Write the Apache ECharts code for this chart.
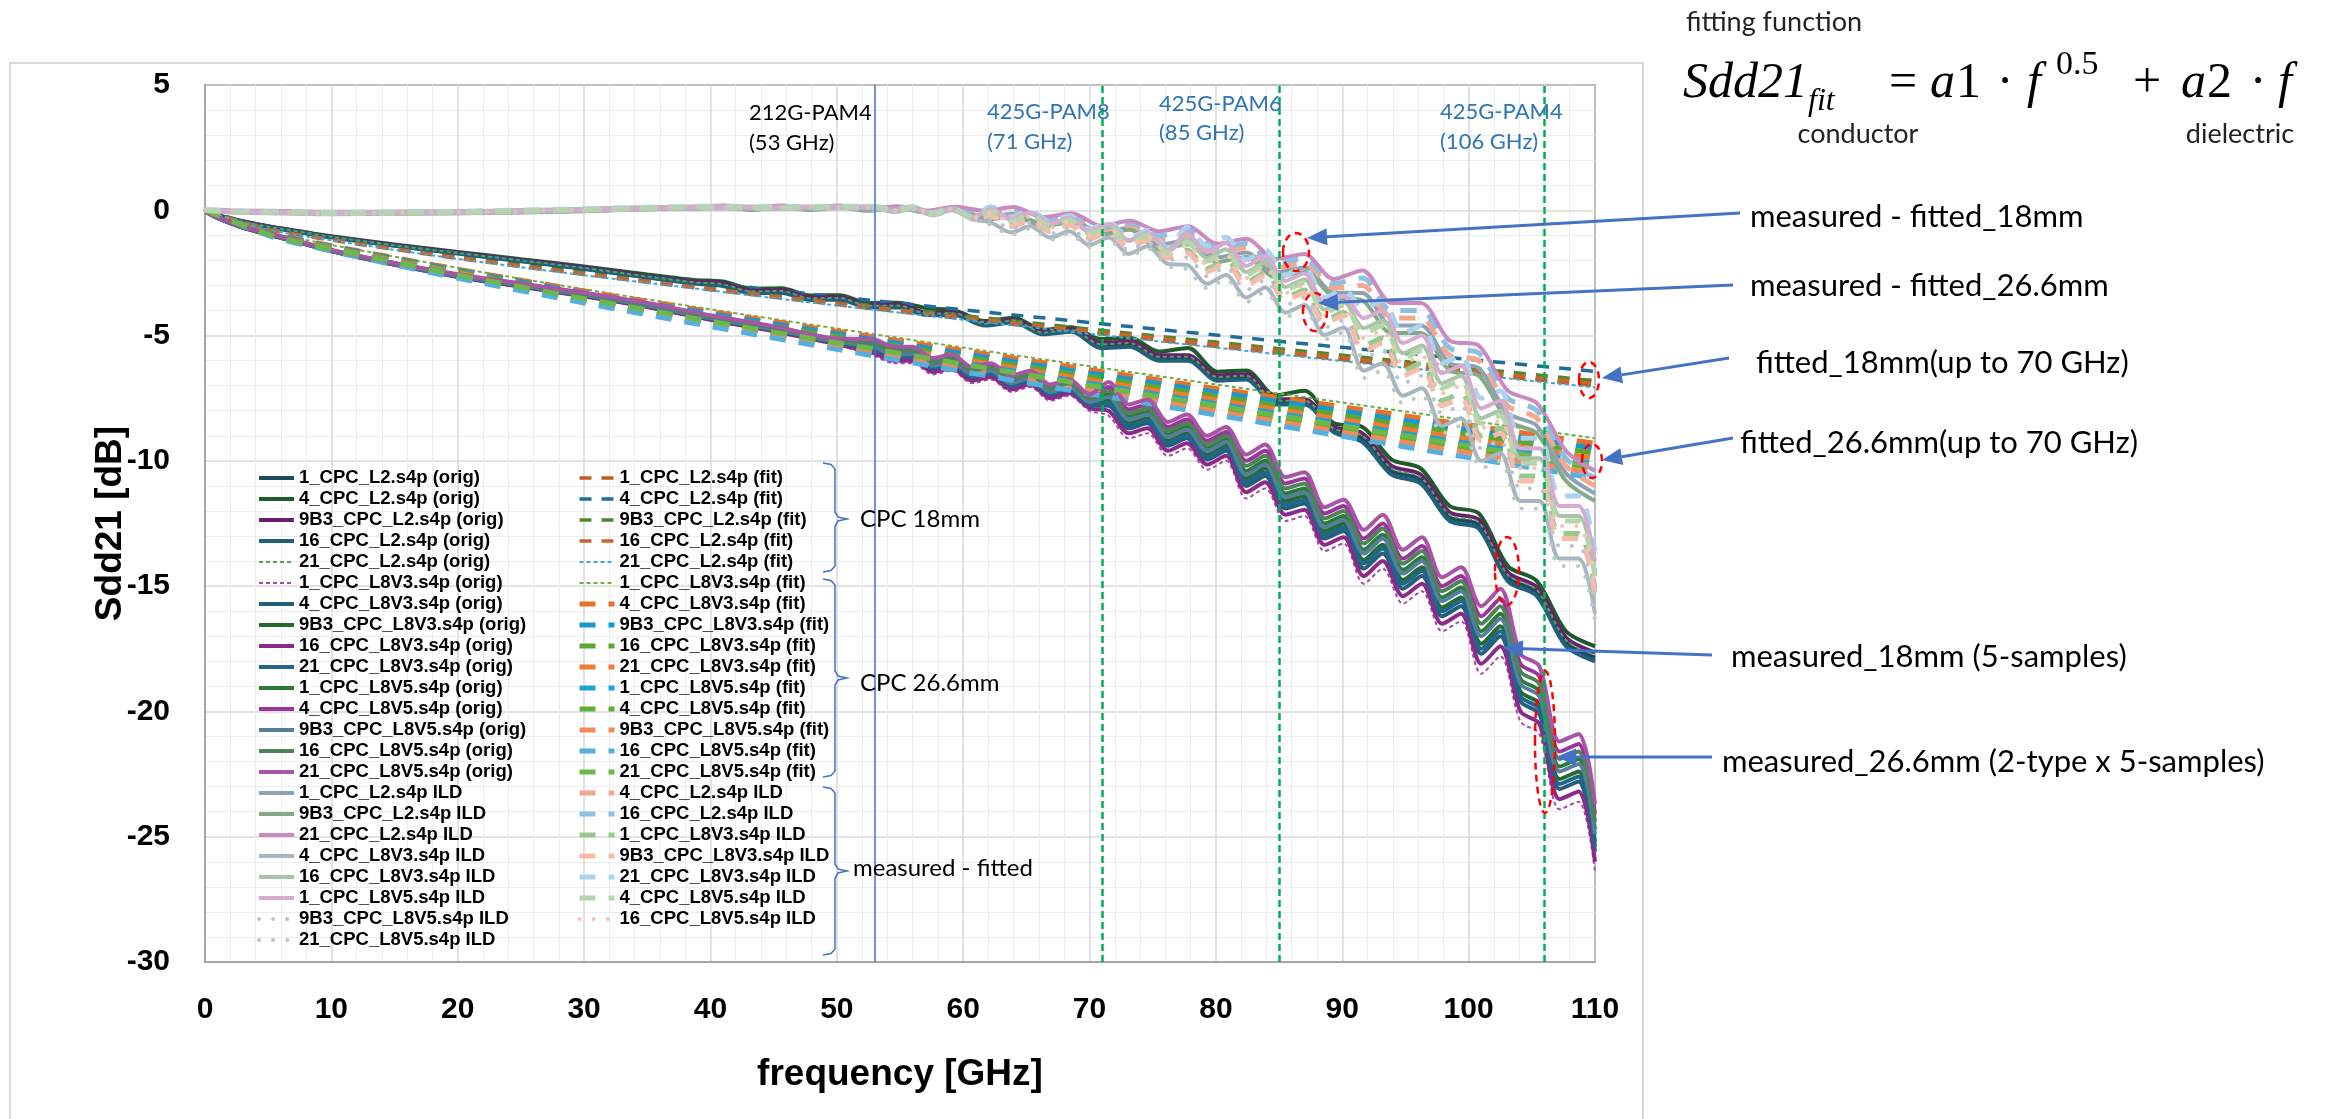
<!DOCTYPE html>
<html>
<head>
<meta charset="utf-8">
<script src="https://cdn.jsdelivr.net/npm/echarts/dist/echarts.min.js"></script>
<style>
html, body { margin: 0; padding: 0; background: #ffffff; }
#chart { width: 2346px; height: 1119px; }
</style>
</head>
<body>
<div id="chart"></div>
<script>
// ---------------- frequency grids (GHz) ----------------
const freq18 = [0,1,2,3,5,7.5,10,15,20,25,30,35,38.7,41,43.3,45.6,47.9,50.2,52.5,54.8,57.1,59.4,61.7,64,66.3,68.6,70.9,73.2,75.5,77.8,80.1,82.4,84.7,87,89.3,91.6,93.9,96.2,98.5,100.8,103.1,105.4,107.7,110];
const freq26 = [0,1,2,3,5,7.5,10,15,20,25,30,35,40,45,50,52.9,54.5,56,57.6,59.1,60.7,62.2,63.8,65.3,66.9,68.4,70,71.5,73.1,74.6,76.2,77.7,79.3,80.8,82.4,83.9,85.5,87,88.6,90.1,91.7,93.2,94.8,96.3,97.9,99.4,101,102.5,104.1,105.6,107.2,108.7,110];
const freqFit = [0,5,10,20,30,40,50,60,70,80,90,100,110];

// ---------------- measured Sdd21 [dB], CPC 18mm (L2) ----------------
const o1L2 = [-0.05,-0.21,-0.34,-0.46,-0.66,-0.87,-1.07,-1.41,-1.71,-2.01,-2.32,-2.66,-2.89,-2.97,-3.26,-3.24,-3.53,-3.52,-3.83,-3.82,-4.13,-4.14,-4.55,-4.42,-4.9,-4.8,-5.41,-5.36,-5.91,-5.91,-6.71,-6.66,-7.66,-7.66,-8.76,-9.1,-10.4,-10.75,-12.25,-12.55,-14.65,-15.25,-17.25,-17.85];
const o4L2 = [-0.05,-0.2,-0.32,-0.44,-0.64,-0.84,-1.04,-1.36,-1.66,-1.95,-2.24,-2.56,-2.78,-2.84,-3.13,-3.11,-3.4,-3.39,-3.7,-3.69,-3.9,-4.01,-4.42,-4.29,-4.77,-4.67,-5.14,-5.09,-5.64,-5.5,-6.44,-6.39,-7.39,-7.2,-8.49,-8.65,-9.95,-10.3,-11.8,-12.1,-14.2,-14.8,-16.8,-17.4];
const o9B3L2 = [-0.05,-0.2,-0.33,-0.45,-0.65,-0.86,-1.06,-1.39,-1.69,-1.99,-2.29,-2.63,-2.85,-2.92,-3.21,-3.19,-3.48,-3.47,-3.78,-3.77,-4.08,-4.09,-4.5,-4.37,-4.85,-4.75,-5.29,-5.24,-5.79,-5.79,-6.59,-6.54,-7.54,-7.54,-8.64,-8.9,-10.2,-10.55,-12.05,-12.35,-14.45,-15.05,-17.05,-17.65];
const o16L2 = [-0.05,-0.21,-0.34,-0.47,-0.67,-0.88,-1.08,-1.42,-1.73,-2.03,-2.34,-2.68,-2.92,-3.02,-3.31,-3.29,-3.58,-3.57,-3.88,-3.87,-4.18,-4.19,-4.6,-4.47,-4.95,-4.85,-5.5,-5.45,-6.0,-6.0,-6.8,-6.75,-7.75,-7.75,-8.85,-9.25,-10.55,-10.9,-12.4,-12.7,-14.8,-15.4,-17.4,-18.0];
const o21L2 = [-0.05,-0.2,-0.33,-0.46,-0.66,-0.86,-1.06,-1.4,-1.7,-2.0,-2.3,-2.64,-2.87,-2.95,-3.24,-3.22,-3.51,-3.5,-3.81,-3.8,-4.11,-4.12,-4.53,-4.4,-4.88,-4.78,-5.35,-5.3,-5.85,-5.85,-6.65,-6.6,-7.6,-7.6,-8.7,-9.0,-10.3,-10.65,-12.15,-12.45,-14.55,-15.15,-17.15,-17.75];

// ---------------- measured Sdd21 [dB], CPC 26.6mm (L8V3 / L8V5) ----------------
const o1L8V3 = [-0.05,-0.32,-0.52,-0.7,-0.97,-1.3,-1.65,-2.2,-2.68,-3.06,-3.45,-3.88,-4.4,-4.86,-5.38,-5.8,-6.1,-6.1,-6.55,-6.4,-6.9,-6.75,-7.25,-7.05,-7.6,-7.4,-8.0,-8.2,-9.1,-8.9,-9.8,-9.5,-10.35,-10.0,-11.5,-11.1,-12.4,-12.2,-13.6,-13.3,-14.9,-14.3,-15.7,-15.2,-16.8,-16.4,-18.5,-17.8,-20.4,-20.9,-23.9,-23.6,-26.4];
const o4L8V3 = [-0.05,-0.31,-0.51,-0.69,-0.96,-1.29,-1.63,-2.17,-2.65,-3.03,-3.42,-3.84,-4.35,-4.8,-5.32,-5.6,-5.9,-5.9,-6.35,-6.2,-6.7,-6.55,-7.05,-6.85,-7.4,-7.2,-7.8,-7.8,-8.7,-8.5,-9.4,-9.1,-9.95,-9.6,-11.0,-10.6,-11.9,-11.7,-13.1,-12.8,-14.3,-13.7,-15.1,-14.6,-16.2,-15.8,-17.7,-17.0,-19.6,-20.1,-23.1,-22.8,-25.6];
const o9B3L8V3 = [-0.05,-0.3,-0.5,-0.68,-0.95,-1.28,-1.62,-2.15,-2.62,-3.0,-3.38,-3.8,-4.3,-4.75,-5.25,-5.5,-5.8,-5.8,-6.25,-6.1,-6.6,-6.45,-6.95,-6.75,-7.3,-7.1,-7.7,-7.6,-8.5,-8.3,-9.2,-8.9,-9.75,-9.4,-10.7,-10.3,-11.6,-11.4,-12.8,-12.5,-13.95,-13.35,-14.75,-14.25,-15.85,-15.45,-17.3,-16.6,-19.2,-19.7,-22.7,-22.4,-25.2];
const o16L8V3 = [-0.05,-0.32,-0.52,-0.7,-0.97,-1.3,-1.64,-2.18,-2.66,-3.05,-3.44,-3.86,-4.37,-4.83,-5.35,-5.7,-6.0,-6.0,-6.45,-6.3,-6.8,-6.65,-7.15,-6.95,-7.5,-7.3,-7.9,-8.0,-8.9,-8.7,-9.6,-9.3,-10.15,-9.8,-11.25,-10.85,-12.15,-11.95,-13.35,-13.05,-14.6,-14.0,-15.4,-14.9,-16.5,-16.1,-18.1,-17.4,-20.0,-20.5,-23.5,-23.2,-26.0];
const o21L8V3 = [-0.05,-0.3,-0.5,-0.69,-0.96,-1.29,-1.63,-2.16,-2.64,-3.02,-3.4,-3.82,-4.33,-4.78,-5.29,-5.55,-5.85,-5.85,-6.3,-6.15,-6.65,-6.5,-7.0,-6.8,-7.35,-7.15,-7.75,-7.7,-8.6,-8.4,-9.3,-9.0,-9.85,-9.5,-10.85,-10.45,-11.75,-11.55,-12.95,-12.65,-14.1,-13.5,-14.9,-14.4,-16.0,-15.6,-17.5,-16.8,-19.4,-19.9,-22.9,-22.6,-25.4];
const o1L8V5 = [-0.05,-0.29,-0.49,-0.67,-0.94,-1.27,-1.61,-2.14,-2.6,-2.98,-3.36,-3.77,-4.27,-4.72,-5.21,-5.4,-5.7,-5.7,-6.15,-6.0,-6.5,-6.35,-6.85,-6.65,-7.2,-7.0,-7.6,-7.35,-8.25,-8.05,-8.95,-8.65,-9.5,-9.15,-10.4,-10.0,-11.3,-11.1,-12.5,-12.2,-13.55,-12.95,-14.35,-13.85,-15.45,-15.05,-16.8,-16.1,-18.7,-19.2,-22.2,-21.9,-24.7];
const o4L8V5 = [-0.05,-0.28,-0.48,-0.66,-0.92,-1.25,-1.59,-2.11,-2.57,-2.94,-3.31,-3.72,-4.22,-4.66,-5.15,-5.25,-5.5,-5.5,-5.95,-5.8,-6.3,-6.15,-6.65,-6.45,-7.0,-6.8,-7.4,-7.05,-7.95,-7.75,-8.65,-8.35,-9.2,-8.85,-10.0,-9.6,-10.9,-10.7,-12.1,-11.8,-13.1,-12.5,-13.9,-13.4,-15.0,-14.6,-16.2,-15.5,-18.1,-18.6,-21.6,-21.3,-24.1];
const o9B3L8V5 = [-0.05,-0.3,-0.5,-0.68,-0.95,-1.28,-1.62,-2.15,-2.62,-3.0,-3.38,-3.8,-4.3,-4.75,-5.25,-5.45,-5.75,-5.75,-6.2,-6.05,-6.55,-6.4,-6.9,-6.7,-7.25,-7.05,-7.65,-7.45,-8.35,-8.15,-9.05,-8.75,-9.6,-9.25,-10.55,-10.15,-11.45,-11.25,-12.65,-12.35,-13.7,-13.1,-14.5,-14.0,-15.6,-15.2,-17.0,-16.3,-18.9,-19.4,-22.4,-22.1,-24.9];
const o16L8V5 = [-0.05,-0.29,-0.48,-0.66,-0.93,-1.26,-1.6,-2.12,-2.58,-2.96,-3.33,-3.74,-4.24,-4.68,-5.17,-5.3,-5.6,-5.6,-6.05,-5.9,-6.4,-6.25,-6.75,-6.55,-7.1,-6.9,-7.5,-7.2,-8.1,-7.9,-8.8,-8.5,-9.35,-9.0,-10.2,-9.8,-11.1,-10.9,-12.3,-12.0,-13.3,-12.7,-14.1,-13.6,-15.2,-14.8,-16.5,-15.8,-18.4,-18.9,-21.9,-21.6,-24.4];
const o21L8V5 = [-0.05,-0.28,-0.47,-0.65,-0.91,-1.24,-1.58,-2.1,-2.55,-2.92,-3.29,-3.7,-4.19,-4.63,-5.12,-5.15,-5.45,-5.45,-5.9,-5.75,-6.25,-6.1,-6.6,-6.4,-6.95,-6.75,-7.35,-6.85,-7.75,-7.55,-8.45,-8.15,-9.0,-8.65,-9.75,-9.35,-10.65,-10.45,-11.85,-11.55,-12.75,-12.15,-13.55,-13.05,-14.65,-14.25,-15.8,-15.1,-17.7,-18.2,-21.2,-20.9,-23.7];

// ---------------- fitted curves [dB] ----------------
const f1L2 = [0,-0.76,-1.19,-1.92,-2.56,-3.17,-3.76,-4.33,-4.88,-5.43,-5.96,-6.49,-7.0];
const f4L2 = [0,-0.7,-1.09,-1.76,-2.35,-2.91,-3.45,-3.97,-4.48,-4.98,-5.47,-5.95,-6.43];
const f9B3L2 = [0,-0.74,-1.15,-1.86,-2.48,-3.08,-3.65,-4.2,-4.74,-5.26,-5.78,-6.29,-6.8];
const f16L2 = [0,-0.75,-1.17,-1.89,-2.53,-3.13,-3.71,-4.27,-4.82,-5.35,-5.88,-6.4,-6.91];
const f21L2 = [0,-0.77,-1.2,-1.94,-2.59,-3.2,-3.8,-4.37,-4.93,-5.48,-6.02,-6.55,-7.07];
const f1L8V3 = [0,-0.86,-1.38,-2.3,-3.15,-3.95,-4.72,-5.48,-6.22,-6.95,-7.67,-8.39,-9.1];
const f4L8V3 = [0,-0.87,-1.41,-2.35,-3.22,-4.04,-4.83,-5.6,-6.36,-7.11,-7.84,-8.57,-9.3];
const f9B3L8V3 = [0,-0.89,-1.44,-2.4,-3.29,-4.12,-4.93,-5.72,-6.5,-7.26,-8.01,-8.76,-9.5];
const f16L8V3 = [0,-0.91,-1.47,-2.45,-3.36,-4.21,-5.03,-5.84,-6.63,-7.41,-8.18,-8.94,-9.7];
const f21L8V3 = [0,-0.93,-1.5,-2.5,-3.43,-4.3,-5.14,-5.96,-6.77,-7.56,-8.35,-9.13,-9.9];
const f1L8V5 = [0,-0.95,-1.54,-2.56,-3.49,-4.38,-5.24,-6.08,-6.91,-7.72,-8.51,-9.31,-10.1];
const f4L8V5 = [0,-0.97,-1.57,-2.61,-3.56,-4.47,-5.35,-6.2,-7.05,-7.87,-8.68,-9.5,-10.3];
const f9B3L8V5 = [0,-0.99,-1.6,-2.66,-3.63,-4.56,-5.45,-6.32,-7.18,-8.02,-8.85,-9.68,-10.5];
const f16L8V5 = [0,-1.01,-1.63,-2.71,-3.7,-4.64,-5.55,-6.44,-7.32,-8.17,-9.02,-9.87,-10.7];
const f21L8V5 = [0,-0.96,-1.55,-2.58,-3.53,-4.43,-5.29,-6.14,-6.98,-7.79,-8.6,-9.4,-10.2];

// ---------------- ILD = measured - fitted [dB] ----------------
const i1L2 = [0,-0.02,-0.04,-0.05,-0.06,-0.08,-0.1,-0.1,-0.08,-0.05,0,0.08,0.1,0.15,0.05,0.15,0.05,0.15,0.02,0.12,-0.05,0.1,-0.29,-0.14,-0.54,-0.39,-0.89,-0.69,-1.38,-1.18,-1.88,-1.68,-2.48,-2.28,-3.28,-3.3,-4.6,-4.6,-6.1,-6.3,-8.1,-8.6,-10.5,-11.3];
const i4L2 = [0,-0.02,-0.04,-0.05,-0.06,-0.08,-0.1,-0.1,-0.08,-0.05,0,0.08,0.1,0.15,0.05,0.15,0.05,0.15,0.02,0.12,-0.05,0.1,-0.2,-0.05,-0.45,-0.3,-0.8,-0.6,-1.2,-1.0,-1.7,-1.5,-2.3,-2.1,-3.1,-3.0,-4.3,-4.3,-5.8,-6.0,-7.8,-8.3,-10.2,-11.0];
const i9B3L2 = [0,-0.05,-0.08,-0.09,-0.1,-0.12,-0.14,-0.14,-0.12,-0.09,-0.04,0.04,0.06,0.11,0.01,0.11,0.01,0.11,-0.02,0.08,-0.09,0.06,-0.38,-0.23,-0.63,-0.48,-0.98,-0.78,-1.56,-1.36,-2.06,-1.86,-2.66,-2.46,-3.46,-3.6,-4.9,-4.9,-6.4,-6.6,-8.4,-8.9,-10.8,-11.6];
const i16L2 = [0,-0.02,-0.04,-0.05,-0.06,-0.08,-0.1,-0.1,-0.08,-0.05,0,0.08,0.1,0.15,0.05,0.15,0.05,0.15,0.02,0.12,-0.05,0.1,-0.11,0.04,-0.36,-0.21,-0.71,-0.51,-1.02,-0.82,-1.52,-1.32,-2.12,-1.92,-2.92,-2.7,-4.0,-4.0,-5.5,-5.7,-7.5,-8.0,-9.9,-10.7];
const i21L2 = [0.02,0.02,0,-0.01,-0.02,-0.04,-0.06,-0.06,-0.04,-0.01,0.04,0.12,0.14,0.19,0.09,0.19,0.09,0.19,0.06,0.16,-0.01,0.14,-0.02,0.13,-0.27,-0.12,-0.62,-0.42,-0.84,-0.64,-1.34,-1.14,-1.94,-1.74,-2.74,-2.4,-3.7,-3.7,-5.2,-5.4,-7.2,-7.7,-9.6,-10.4];
const i1L8V3 = [0,-0.03,-0.05,-0.06,-0.08,-0.1,-0.12,-0.1,-0.08,-0.03,0.02,0.08,0.12,0.1,0.12,0.12,-0.02,0.1,-0.15,0.05,-0.3,-0.19,-0.59,-0.34,-0.79,-0.54,-1.09,-0.79,-1.44,-1.14,-1.84,-1.58,-2.33,-1.98,-2.88,-2.48,-3.48,-3.18,-4.38,-4.08,-5.4,-5.1,-6.4,-6.1,-7.6,-7.3,-9.0,-8.7,-10.6,-10.6,-12.9,-12.9,-15.1];
const i4L8V3 = [0,-0.05,-0.08,-0.1,-0.12,-0.14,-0.16,-0.14,-0.12,-0.07,-0.02,0.04,0.08,0.06,0.08,0.08,-0.07,0.05,-0.2,0,-0.36,-0.49,-0.89,-0.64,-1.09,-0.84,-1.39,-1.09,-1.74,-1.44,-2.14,-2.18,-2.93,-2.58,-3.48,-3.08,-4.08,-3.78,-4.98,-4.68,-6.4,-6.1,-7.4,-7.1,-8.6,-8.3,-10.0,-9.7,-11.6,-11.6,-13.9,-13.9,-16.1];
const i9B3L8V3 = [0,-0.03,-0.05,-0.06,-0.08,-0.1,-0.12,-0.1,-0.08,-0.03,0.02,0.08,0.12,0.1,0.12,0.12,-0.02,0.1,-0.15,0.05,-0.3,-0.25,-0.65,-0.4,-0.85,-0.6,-1.15,-0.85,-1.5,-1.2,-1.9,-1.7,-2.45,-2.1,-3.0,-2.6,-3.6,-3.3,-4.5,-4.2,-5.6,-5.3,-6.6,-6.3,-7.8,-7.5,-9.2,-8.9,-10.8,-10.8,-13.1,-13.1,-15.3];
const i16L8V3 = [0.02,0,-0.02,-0.03,-0.05,-0.06,-0.08,-0.06,-0.04,0.01,0.06,0.12,0.16,0.14,0.16,0.16,0.03,0.14,-0.1,0.09,-0.25,0.02,-0.38,-0.13,-0.58,-0.33,-0.88,-0.58,-1.23,-0.93,-1.63,-1.16,-1.91,-1.56,-2.46,-2.06,-3.06,-2.76,-3.96,-3.66,-4.7,-4.4,-5.7,-5.4,-6.9,-6.6,-8.3,-8.0,-9.9,-9.9,-12.2,-12.2,-14.4];
const i21L8V3 = [0.02,0,-0.02,-0.03,-0.05,-0.06,-0.08,-0.06,-0.04,0.01,0.06,0.12,0.16,0.14,0.16,0.16,0.03,0.14,-0.1,0.09,-0.25,0.14,-0.26,-0.01,-0.46,-0.21,-0.76,-0.46,-1.11,-0.81,-1.51,-0.68,-1.43,-1.08,-1.98,-1.58,-2.58,-2.28,-3.48,-3.18,-3.9,-3.6,-4.9,-4.6,-6.1,-5.8,-7.5,-7.2,-9.1,-9.1,-11.4,-11.4,-13.6];
const i1L8V5 = [0,-0.03,-0.05,-0.06,-0.08,-0.1,-0.12,-0.1,-0.08,-0.03,0.02,0.08,0.12,0.1,0.12,0.12,-0.02,0.1,-0.15,0.05,-0.3,0.06,-0.34,-0.09,-0.54,-0.29,-0.84,-0.54,-1.19,-0.89,-1.59,-0.92,-1.67,-1.32,-2.22,-1.82,-2.82,-2.52,-3.72,-3.42,-4.3,-4.0,-5.3,-5.0,-6.5,-6.2,-7.9,-7.6,-9.5,-9.5,-11.8,-11.8,-14.0];
const i4L8V5 = [0,-0.03,-0.05,-0.06,-0.08,-0.1,-0.12,-0.1,-0.08,-0.03,0.02,0.08,0.12,0.1,0.12,0.12,-0.02,0.1,-0.15,0.05,-0.3,-0.04,-0.44,-0.19,-0.64,-0.39,-0.94,-0.64,-1.29,-0.99,-1.69,-1.28,-2.03,-1.68,-2.58,-2.18,-3.18,-2.88,-4.08,-3.78,-4.9,-4.6,-5.9,-5.6,-7.1,-6.8,-8.5,-8.2,-10.1,-10.1,-12.4,-12.4,-14.6];
const i9B3L8V5 = [0,-0.03,-0.05,-0.06,-0.08,-0.1,-0.12,-0.1,-0.08,-0.03,0.02,0.08,0.12,0.1,0.12,0.12,-0.02,0.1,-0.15,0.05,-0.3,-0.34,-0.74,-0.49,-0.94,-0.69,-1.24,-0.94,-1.59,-1.29,-1.99,-1.88,-2.63,-2.28,-3.18,-2.78,-3.78,-3.48,-4.68,-4.38,-5.9,-5.6,-6.9,-6.6,-8.1,-7.8,-9.5,-9.2,-11.1,-11.1,-13.4,-13.4,-15.6];
const i16L8V5 = [0,-0.03,-0.05,-0.06,-0.08,-0.1,-0.12,-0.1,-0.08,-0.03,0.02,0.08,0.12,0.1,0.12,0.12,-0.02,0.1,-0.15,0.05,-0.3,-0.1,-0.5,-0.25,-0.7,-0.45,-1.0,-0.7,-1.35,-1.05,-1.75,-1.4,-2.15,-1.8,-2.7,-2.3,-3.3,-3.0,-4.2,-3.9,-5.1,-4.8,-6.1,-5.8,-7.3,-7.0,-8.7,-8.4,-10.3,-10.3,-12.6,-12.6,-14.8];
const i21L8V5 = [0,-0.05,-0.08,-0.1,-0.12,-0.14,-0.16,-0.14,-0.12,-0.07,-0.02,0.04,0.08,0.06,0.08,0.08,-0.07,0.05,-0.2,0,-0.36,-0.58,-0.98,-0.73,-1.18,-0.93,-1.48,-1.18,-1.83,-1.53,-2.23,-2.36,-3.11,-2.76,-3.66,-3.26,-4.26,-3.96,-5.16,-4.86,-6.7,-6.4,-7.7,-7.4,-8.9,-8.6,-10.3,-10.0,-11.9,-11.9,-14.2,-14.2,-16.4];

// ---------------- sample names and standard markers ----------------
const samples = ['1_CPC_L2','4_CPC_L2','9B3_CPC_L2','16_CPC_L2','21_CPC_L2','1_CPC_L8V3','4_CPC_L8V3','9B3_CPC_L8V3','16_CPC_L8V3','21_CPC_L8V3','1_CPC_L8V5','4_CPC_L8V5','9B3_CPC_L8V5','16_CPC_L8V5','21_CPC_L8V5'];
const markerGHz = [53, 71, 85, 106];
const markerTitles = ['212G-PAM4', '425G-PAM8', '425G-PAM6', '425G-PAM4'];
const markerNotes = ['(53 GHz)', '(71 GHz)', '(85 GHz)', '(106 GHz)'];

const origArrays = [o1L2,o4L2,o9B3L2,o16L2,o21L2,o1L8V3,o4L8V3,o9B3L8V3,o16L8V3,o21L8V3,o1L8V5,o4L8V5,o9B3L8V5,o16L8V5,o21L8V5];
const fitArrays = [f1L2,f4L2,f9B3L2,f16L2,f21L2,f1L8V3,f4L8V3,f9B3L8V3,f16L8V3,f21L8V3,f1L8V5,f4L8V5,f9B3L8V5,f16L8V5,f21L8V5];
const ildArrays = [i1L2,i4L2,i9B3L2,i16L2,i21L2,i1L8V3,i4L8V3,i9B3L8V3,i16L8V3,i21L8V3,i1L8V5,i4L8V5,i9B3L8V5,i16L8V5,i21L8V5];

// ---------------- line styles: [color, width, dash, cap] ----------------
const FINE = [4, 3], DASH18 = [12, 10], DASH26 = [16, 13], DOTS = [0.1, 14];
const origStyle = [
  ['#1d4b5e',4,'solid'], ['#1e5a2c',4,'solid'], ['#6a1e6e',4,'solid'], ['#21607a',4,'solid'], ['#5a9f5a',2,FINE],
  ['#a34da3',2,FINE], ['#235f7a',4,'solid'], ['#236b30',4,'solid'], ['#8c2a8c',4,'solid'], ['#1f6689',4,'solid'],
  ['#2a7a38',4,'solid'], ['#9a359a',4,'solid'], ['#557d9c',4,'solid'], ['#4f8259',4,'solid'], ['#a855a8',4,'solid']
];
const fitStyle = [
  ['#c55a20',3.5,DASH18], ['#1f6e9a',3.5,DASH18], ['#4e8a2b',3.5,DASH18], ['#c9652e',3.5,DASH18], ['#41a6d6',2,FINE],
  ['#70ad47',2,FINE], ['#e8712a',5,DASH26], ['#1797d4',5,DASH26], ['#5aa832',5,DASH26], ['#ef7b35',5,DASH26],
  ['#1aa2dc',5,DASH26], ['#5fb035',5,DASH26], ['#f28a5c',5,DASH26], ['#55b0e0',5,DASH26], ['#6cb84a',5,DASH26]
];
const ildStyle = [
  ['#8ea2b4',4,'solid'], ['#f3a98c',5,DASH26], ['#88a987',4,'solid'], ['#8dc0e2',5,DASH26], ['#c98bc1',4,'solid'],
  ['#96c98d',5,DASH26], ['#a9b6c2',4,'solid'], ['#f6bcab',5,DASH26], ['#aac3aa',4,'solid'], ['#acd2ee',5,DASH26],
  ['#d6abcf',4,'solid'], ['#b3d6ab',5,DASH26], ['#b9c5d1',4,DOTS,'round'], ['#f5c3b4',4,DOTS,'round'], ['#bccbbc',4,DOTS,'round']
];

function lineSeries(name, freq, vals, st) {
  return {
    type: 'line', name: name,
    data: vals.map((v, i) => [freq[i], v]),
    symbol: 'none', showSymbol: false, smooth: 0.3,
    lineStyle: { color: st[0], width: st[1], type: st[2], cap: st[3] || 'butt' },
    itemStyle: { color: st[0] },
    emphasis: { disabled: true }, silent: true
  };
}

const series = [];
samples.forEach((s, k) => {
  const fq = k < 5 ? freq18 : freq26;
  series.push(lineSeries(s + '.s4p (orig)', fq, origArrays[k], origStyle[k]));
  series.push(lineSeries(s + '.s4p (fit)', freqFit, fitArrays[k], fitStyle[k]));
});
samples.forEach((s, k) => {
  series.push(lineSeries(s + '.s4p ILD', k < 5 ? freq18 : freq26, ildArrays[k], ildStyle[k]));
});
// standard frequency markers
series.push({
  type: 'line', name: 'markers', data: [], silent: true, z: 5,
  markLine: {
    silent: true, symbol: ['none', 'none'], animation: false,
    label: { show: false },
    data: markerGHz.map((g, i) => ({
      xAxis: g,
      lineStyle: i === 0 ? { color: '#4472c4', width: 1.5, type: 'solid' }
                         : { color: '#00b050', width: 2.5, type: [7, 4] }
    }))
  }
});

const legendLeft = samples.map(s => s + '.s4p (orig)').concat(samples.filter((_, k) => k % 2 === 0).map(s => s + '.s4p ILD'));
const legendRight = samples.map(s => s + '.s4p (fit)').concat(samples.filter((_, k) => k % 2 === 1).map(s => s + '.s4p ILD'));

const SANS = '"Liberation Sans", Arial, sans-serif';
const NOTE = 'Lato, "Open Sans", sans-serif';
const SERIF = '"Liberation Serif", "DejaVu Serif", serif';
const BLUE = '#4472c4';
const legendText = { fontFamily: SANS, fontWeight: 'bold', fontSize: 18.5, lineHeight: 21, color: '#000' };

function legendCfg(names, left) {
  return {
    data: names.map(n => ({ name: n, textStyle: legendText })),
    orient: 'vertical', left: left, top: 467.5, padding: 0,
    itemWidth: 35, itemHeight: 14, itemGap: 0, selectedMode: false,
    itemStyle: { opacity: 0 },
    lineStyle: { width: 'inherit' },
    textStyle: legendText
  };
}

function txt(text, x, y, font, fill, align, valign) {
  return { type: 'text', x: x, y: y, z: 100, silent: true,
    style: { text: text, font: font, fill: fill || '#000', align: align || 'left', verticalAlign: valign || 'middle',
             textAlign: align || 'left', textVerticalAlign: valign || 'middle' } };
}
function arrow(x1, y1, x2, y2) {
  const a = Math.atan2(y2 - y1, x2 - x1), L = 20, W = 8.5;
  const bx = x2 - L * Math.cos(a), by = y2 - L * Math.sin(a);
  return [
    { type: 'line', z: 100, silent: true, shape: { x1: x1, y1: y1, x2: bx, y2: by }, style: { stroke: BLUE, lineWidth: 3 } },
    { type: 'polygon', z: 100, silent: true,
      shape: { points: [[x2, y2], [bx + W * Math.sin(a), by - W * Math.cos(a)], [bx - W * Math.sin(a), by + W * Math.cos(a)]] },
      style: { fill: BLUE } }
  ];
}
function ring(cx, cy, rx, ry) {
  return { type: 'ellipse', z: 100, silent: true, shape: { cx: cx, cy: cy, rx: rx, ry: ry },
    style: { fill: 'none', stroke: '#ff0000', lineWidth: 2.5, lineDash: [7, 5] } };
}
function brace(x0, yT, yB, yM) {
  return { type: 'polyline', z: 100, silent: true,
    shape: { points: [[x0, yT], [x0 + 8, yT + 1.5], [x0 + 12, yT + 6], [x0 + 12, yM - 7], [x0 + 15, yM - 2], [x0 + 24, yM],
                      [x0 + 15, yM + 2], [x0 + 12, yM + 7], [x0 + 12, yB - 6], [x0 + 8, yB - 1.5], [x0, yB]] },
    style: { fill: 'none', stroke: BLUE, lineWidth: 1.5 } };
}

const labelXs = [749, 987, 1159, 1440];
const labelYs = [[113, 143], [112, 142], [104, 133], [112, 142]];
const graphics = [
  { type: 'rect', z: -10, silent: true, shape: { x: 10, y: 63, width: 1633, height: 1100 }, style: { fill: 'none', stroke: '#d9d9d9', lineWidth: 2 } },
  txt('fitting function', 1686, 22, '27px ' + NOTE, '#222'),
  txt('Sdd21', 1683, 84, 'italic 50px ' + SERIF),
  txt('fit', 1808, 102, 'italic 32px ' + SERIF),
  txt('=', 1903, 84, '50px ' + SERIF, '#000', 'center'),
  txt('a', 1930, 84, 'italic 50px ' + SERIF),
  txt('1', 1956, 84, '50px ' + SERIF),
  txt('·', 2005, 84, '50px ' + SERIF, '#000', 'center'),
  txt('f', 2027, 84, 'italic 50px ' + SERIF),
  txt('0.5', 2056, 65, '34px ' + SERIF),
  txt('+', 2147, 84, '50px ' + SERIF, '#000', 'center'),
  txt('a', 2181, 84, 'italic 50px ' + SERIF),
  txt('2', 2207, 84, '50px ' + SERIF),
  txt('·', 2258, 84, '50px ' + SERIF, '#000', 'center'),
  txt('f', 2278, 84, 'italic 50px ' + SERIF),
  txt('conductor', 1858, 134, '27px ' + NOTE, '#222', 'center'),
  txt('dielectric', 2240, 134, '27px ' + NOTE, '#222', 'center'),
  txt('measured - fitted_18mm', 1750, 217, '31px ' + NOTE),
  txt('measured - fitted_26.6mm', 1750, 286, '31px ' + NOTE),
  txt('fitted_18mm(up to 70 GHz)', 1756, 363, '31px ' + NOTE),
  txt('fitted_26.6mm(up to 70 GHz)', 1740, 443, '31px ' + NOTE),
  txt('measured_18mm (5-samples)', 1731, 657, '31px ' + NOTE),
  txt('measured_26.6mm (2-type x 5-samples)', 1722, 762, '31px ' + NOTE),
  txt('CPC 18mm', 860, 519, '24px ' + NOTE),
  txt('CPC 26.6mm', 860, 683, '24px ' + NOTE),
  txt('measured - fitted', 853, 868, '24px ' + NOTE),
  brace(823, 463, 572, 519),
  brace(823, 579, 777, 678),
  brace(823, 787, 955, 871),
  ring(1296, 252, 13, 19),
  ring(1315, 312, 12, 19),
  ring(1589, 380, 10, 18),
  ring(1592, 461, 10, 17),
  ring(1507, 571, 12, 34),
  ring(1545, 742, 10, 71)
].concat(
  arrow(1740, 213, 1307, 238),
  arrow(1733, 285, 1318, 303),
  arrow(1729, 358, 1602, 378),
  arrow(1733, 438, 1602, 460),
  arrow(1712, 655, 1503, 648),
  arrow(1712, 757, 1556, 757)
);
markerTitles.forEach((t, i) => {
  const col = i === 0 ? '#000' : '#2e75b6';
  graphics.push(txt(t, labelXs[i], labelYs[i][0], '22px ' + NOTE, col));
  graphics.push(txt(markerNotes[i], labelXs[i], labelYs[i][1], '22px ' + NOTE, col));
});

const chart = echarts.init(document.getElementById('chart'), null, { renderer: 'canvas' });
chart.setOption({
  animation: false,
  backgroundColor: '#ffffff',
  grid: { left: 205, top: 85, width: 1390, height: 877, show: true, borderColor: '#404040', borderWidth: 1.5, backgroundColor: 'transparent' },
  xAxis: {
    type: 'value', min: 0, max: 110, interval: 10,
    name: 'frequency [GHz]', nameLocation: 'middle', nameGap: 94, nameMoveOverlap: false,
    nameTextStyle: { fontFamily: SANS, fontWeight: 'bold', fontSize: 37, color: '#000' },
    axisLine: { show: true, onZero: false, lineStyle: { color: '#a6a6a6', width: 2 } },
    axisTick: { show: false },
    axisLabel: { fontFamily: SANS, fontWeight: 'bold', fontSize: 30, color: '#000', margin: 33 },
    splitLine: { show: true, lineStyle: { color: '#d9d9d9', width: 1.5 } },
    minorTick: { show: false, splitNumber: 5 },
    minorSplitLine: { show: true, lineStyle: { color: '#ededed', width: 1 } }
  },
  yAxis: {
    type: 'value', min: -30, max: 5, interval: 5,
    name: 'Sdd21 [dB]', nameLocation: 'middle', nameGap: 76, nameRotate: 90, nameMoveOverlap: false,
    nameTextStyle: { fontFamily: SANS, fontWeight: 'bold', fontSize: 37, color: '#000' },
    axisLine: { show: true, onZero: false, lineStyle: { color: '#a6a6a6', width: 2 } },
    axisTick: { show: false },
    axisLabel: { fontFamily: SANS, fontWeight: 'bold', fontSize: 30, color: '#000', margin: 35 },
    splitLine: { show: true, lineStyle: { color: '#d9d9d9', width: 1.5 } },
    minorTick: { show: false, splitNumber: 5 },
    minorSplitLine: { show: true, lineStyle: { color: '#ededed', width: 1 } }
  },
  legend: [legendCfg(legendLeft, 257), legendCfg(legendRight, 577)],
  series: series,
  graphic: { elements: graphics }
});
</script>
</body>
</html>
